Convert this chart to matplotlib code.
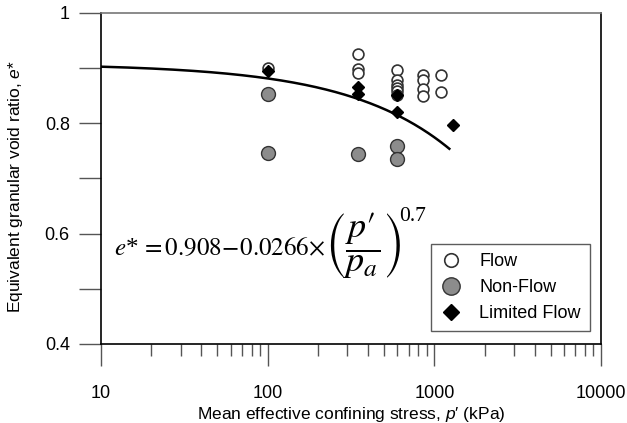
import numpy as np
import matplotlib
matplotlib.use("Agg")
import matplotlib.pyplot as plt
from matplotlib.ticker import FixedLocator, NullFormatter, FixedFormatter

plt.rcParams['font.family'] = ['Liberation Sans', 'DejaVu Sans']
plt.rcParams['mathtext.fontset'] = 'custom'
plt.rcParams['mathtext.rm'] = 'Liberation Sans'
plt.rcParams['mathtext.it'] = 'Liberation Sans:italic'

# Data
flow_p = [100, 350, 350, 350, 600, 600, 600, 600, 600, 600, 850, 850, 850, 850, 1100, 1100]
flow_e = [0.900, 0.926, 0.899, 0.892, 0.896, 0.878, 0.870, 0.864, 0.858, 0.852,
          0.888, 0.879, 0.862, 0.850, 0.887, 0.857]
nonflow_p = [100, 100, 350, 600, 600]
nonflow_e = [0.854, 0.746, 0.744, 0.759, 0.735]
limited_p = [100, 350, 350, 600, 600, 1300]
limited_e = [0.894, 0.865, 0.853, 0.851, 0.820, 0.797]

# Fitted relation shown on the chart
fit_a, fit_b, fit_n, p_atm = 0.908, 0.0266, 0.7, 100.0
fit_pmin, fit_pmax = 10, 1230

fig = plt.figure(figsize=(6.27, 4.23), dpi=100)
ax = fig.add_axes([101/627, 1-344/423, 500/627, 331/423])

pc = np.logspace(np.log10(fit_pmin), np.log10(fit_pmax), 300)
ax.plot(pc, fit_a - fit_b*(pc/p_atm)**fit_n, color='black', lw=1.8, zorder=2)

ax.plot(flow_p, flow_e, 'o', ms=7.8, mfc='white', mec='#333333', mew=1.2, ls='none',
        label='Flow', zorder=3)
ax.plot(nonflow_p, nonflow_e, 'o', ms=10, mfc='#8c8c8c', mec='#333333', mew=1.0, ls='none',
        label='Non-Flow', zorder=3)
ax.plot(limited_p, limited_e, 'D', ms=6.5, mfc='black', mec='black', ls='none',
        label='Limited Flow', zorder=4)

ax.set_xscale('log')
ax.set_xlim(10, 10000)
ax.set_ylim(0.4, 1.0)

ax.yaxis.set_major_locator(FixedLocator([0.4, 0.6, 0.8, 1.0]))
ax.yaxis.set_major_formatter(FixedFormatter(['0.4', '0.6', '0.8', '1']))
ax.yaxis.set_minor_locator(FixedLocator([0.5, 0.7, 0.9]))
ax.xaxis.set_major_locator(FixedLocator([10, 100, 1000, 10000]))
ax.xaxis.set_major_formatter(FixedFormatter(['10', '100', '1000', '10000']))
minors = [m*d for d in (10, 100, 1000) for m in range(2, 10)]
ax.xaxis.set_minor_locator(FixedLocator(minors))
ax.xaxis.set_minor_formatter(NullFormatter())

ax.tick_params(axis='y', which='both', direction='out', length=15.5, width=1, color='#555555',
               labelsize=13, pad=7)
ax.tick_params(axis='x', which='major', direction='out', length=15.5, width=1, color='#555555',
               labelsize=13, pad=14)
ax.tick_params(axis='x', which='minor', direction='out', length=8.5, width=1, color='#555555')

for s in ax.spines.values():
    s.set_linewidth(1.2)
ax.spines['top'].set_color('#777777')

ax.set_xlabel("Mean effective confining stress, $\\mathit{p}$\u2032 (kPa)", fontsize=12.5, labelpad=2)
ax.set_ylabel("Equivalent granular void ratio, $\\mathit{e}$*", fontsize=12.5)
ax.yaxis.set_label_coords(-0.152, 0.477)

# Equation, drawn in parts so that the fraction is larger
serif = ['Liberation Serif', 'DejaVu Serif']
base_y = (344 - 255) / 331
t1 = ax.text(0.026, base_y, r"$e$*$\,=0.908\!-\!0.0266\!\times$",
             transform=ax.transAxes, fontsize=18, family=serif, math_fontfamily='stix',
             va='baseline', ha='left')
fig.canvas.draw()
bb = t1.get_window_extent()
inv = ax.transAxes.inverted()
x_next = inv.transform((bb.x1 - 1, bb.y0))[0]
t2 = ax.text(x_next, base_y - 0.01, "$\\left(\\dfrac{p\u2032}{p_a}\\right)$",
             transform=ax.transAxes, fontsize=26, family=serif, math_fontfamily='stix',
             va='baseline', ha='left')
fig.canvas.draw()
bb2 = t2.get_window_extent()
x_exp, y_exp = inv.transform((bb2.x1 - 2, bb2.y1 + 4))
ax.text(x_exp, y_exp, "0.7", transform=ax.transAxes, fontsize=15.5, family=serif,
        va='top', ha='left')

leg = ax.legend(loc='lower right', bbox_to_anchor=(590/627, 1-331/423), bbox_transform=fig.transFigure,
                fontsize=13, frameon=True, fancybox=False, edgecolor='#333333', borderaxespad=0,
                borderpad=0.5, labelspacing=0.5, handletextpad=1.0, markerscale=1.25,
                handlelength=1.2)
leg.get_frame().set_linewidth(1.0)

fig.savefig('out.png', dpi=100)
